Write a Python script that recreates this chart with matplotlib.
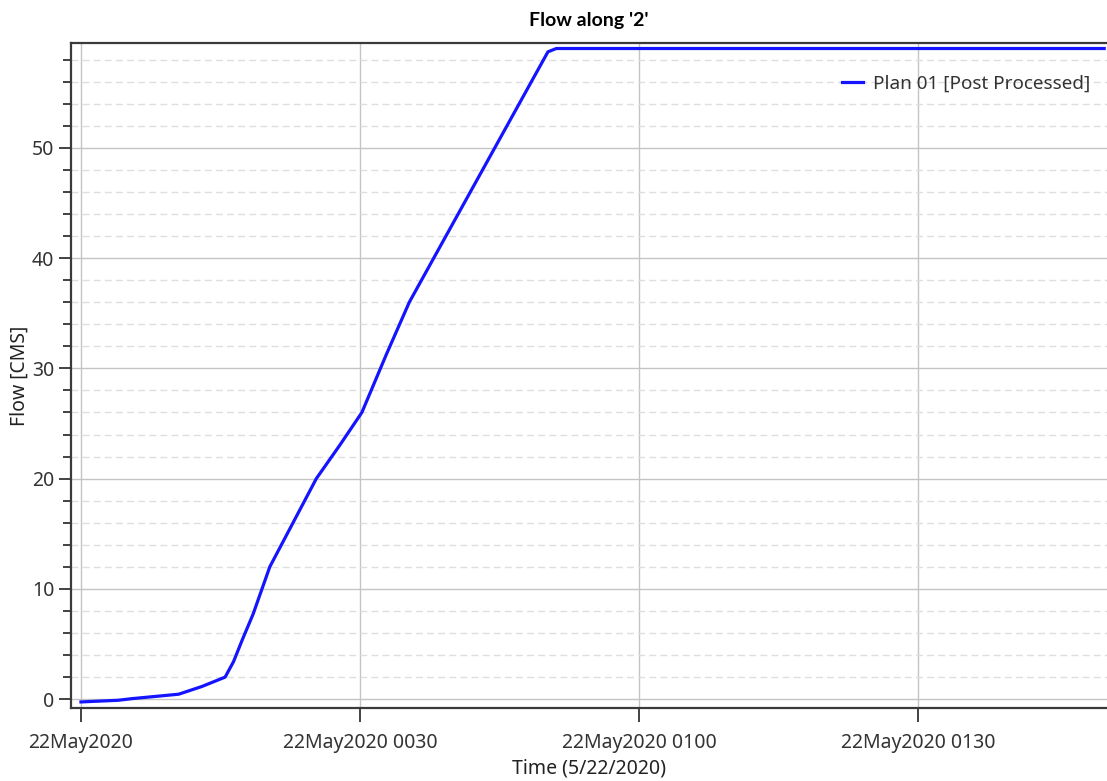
import matplotlib
matplotlib.use("Agg")
import matplotlib.pyplot as plt
import matplotlib.dates as mdates
import pandas as pd
from matplotlib.ticker import MultipleLocator, FuncFormatter

# Flow hydrograph, minutes after 22May2020 0000
minutes = [0, 4, 5.5, 8, 10.5, 13, 15.5, 16.4, 17.4, 18.5, 20.3, 22.8,
           25.3, 27.8, 30.2, 32.8, 35.3, 50.2, 51.1, 110.0]
flow = [-0.25, -0.1, 0.05, 0.25, 0.45, 1.15, 2.0, 3.4, 5.5, 7.7, 12.0, 16.0,
        20.0, 23.0, 26.0, 31.2, 36.0, 58.7, 59.0, 59.0]

start = pd.Timestamp("2020-05-22 00:00")
times = [start + pd.Timedelta(minutes=m) for m in minutes]

plt.rcParams['font.family'] = ['Noto Sans', 'DejaVu Sans']
plt.rcParams['font.size'] = 14

fig = plt.figure(figsize=(11.07, 7.81), dpi=100)
ax = fig.add_axes([71/1107, 1 - 708/781, 1 - 71/1107, (708 - 43)/781])

ax.plot(times, flow, color='#1414ff', lw=2.3, label='Plan 01 [Post Processed]',
        solid_joinstyle='round', zorder=3)

ax.set_xlim(start - pd.Timedelta(minutes=1.07), start + pd.Timedelta(minutes=110.3))
ax.set_ylim(-0.8, 59.5)

# x axis: half-hour ticks in HEC-RAS style
ax.xaxis.set_major_locator(mdates.MinuteLocator(byminute=[0, 30]))


def time_label(x, pos):
    d = mdates.num2date(x)
    s = d.strftime('%d%b%Y')
    if d.hour == 0 and d.minute == 0:
        return s
    return s + ' ' + d.strftime('%H%M')


ax.xaxis.set_major_formatter(FuncFormatter(time_label))
ax.yaxis.set_major_locator(MultipleLocator(10))
ax.yaxis.set_minor_locator(MultipleLocator(2))

ax.grid(True, which='major', axis='both', color='#c4c4c4', lw=1.0, zorder=0)
ax.grid(True, which='minor', axis='y', color='#dedede', lw=1.0,
        linestyle=(0, (5, 3)), zorder=0)
ax.set_axisbelow(True)

for side in ['top', 'left', 'bottom']:
    ax.spines[side].set_color('#3a3a3a')
    ax.spines[side].set_linewidth(1.6)
ax.spines['right'].set_visible(False)

ax.tick_params(axis='x', which='major', length=10, width=1.2, color='#222222',
               labelsize=14, labelcolor='#333333', pad=8)
ax.tick_params(axis='y', which='major', length=9, width=1.2, color='#222222',
               labelsize=14, labelcolor='#333333', pad=3)
ax.tick_params(axis='y', which='minor', length=6, width=1.2, color='#222222')

ax.set_title("Flow along '2'", fontsize=14, fontweight='bold', family='Lato',
             pad=12)
ax.set_xlabel('Time (5/22/2020)', fontsize=14, color='#222222', labelpad=4)
ax.set_ylabel('Flow [CMS]', fontsize=14, color='#222222', labelpad=2)

leg = ax.legend(loc='upper right', bbox_to_anchor=(1.0, 0.978), frameon=False,
                fontsize=13.6, handlelength=1.15, handletextpad=0.5)
for t in leg.get_texts():
    t.set_color('#333333')

fig.savefig('out.png', dpi=100)
